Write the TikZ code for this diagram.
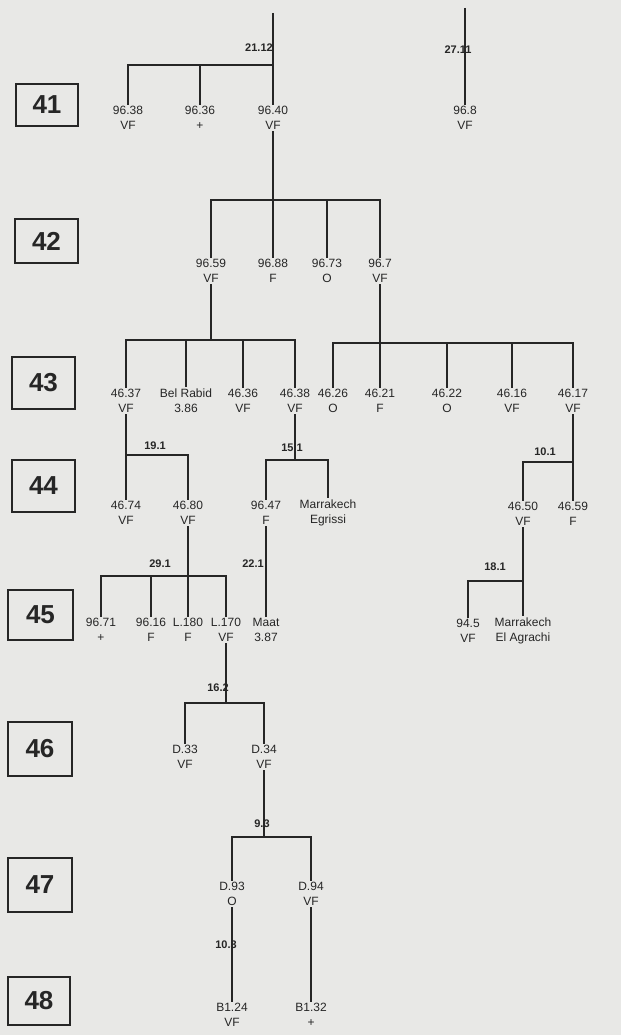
\documentclass[tikz,border=0pt]{standalone}
\usepackage{fontspec}
\setmainfont{Liberation Sans}
\definecolor{bg}{HTML}{E8E8E6}
\definecolor{ink}{HTML}{262626}
\begin{document}
\begin{tikzpicture}[x=1pt,y=-1pt,
  ln/.style={draw=ink,line width=1.3pt},
  lbl/.style={text=ink,align=center,inner sep=1.5pt,font=\fontsize{12}{15}\selectfont},
  dt/.style={text=ink,inner sep=0pt,font=\bfseries\fontsize{11}{13}\selectfont},
  yr/.style={draw=ink,line width=1.8pt,text=ink,inner sep=0pt,font=\bfseries\fontsize{26}{28}\selectfont}]
\path[fill=bg] (0,0) rectangle (621,1035);
\useasboundingbox (0,0) rectangle (621,1035);
% year boxes
\node[yr,minimum width=62pt,minimum height=42pt] (y41) at (47,105) {41};
\node[yr,minimum width=63pt,minimum height=44pt] (y42) at (46.5,241) {42};
\node[yr,minimum width=63pt,minimum height=52pt] (y43) at (43.5,383) {43};
\node[yr,minimum width=63pt,minimum height=52pt] (y44) at (43.5,486) {44};
\node[yr,minimum width=65pt,minimum height=50pt] (y45) at (40.5,615) {45};
\node[yr,minimum width=64pt,minimum height=54pt] (y46) at (40,749) {46};
\node[yr,minimum width=64pt,minimum height=54pt] (y47) at (40,885) {47};
\node[yr,minimum width=62pt,minimum height=48pt] (y48) at (39,1001) {48};
% nodes
\node[lbl] (a1) at (128,118) {96.38\\VF};
\node[lbl] (a2) at (200,118) {96.36\\+};
\node[lbl] (a3) at (273,118) {96.40\\VF};
\node[lbl] (a4) at (465,118) {96.8\\VF};
\node[lbl] (b1) at (211,271) {96.59\\VF};
\node[lbl] (b2) at (273,271) {96.88\\F};
\node[lbl] (b3) at (327,271) {96.73\\O};
\node[lbl] (b4) at (380,271) {96.7\\VF};
\node[lbl] (c1) at (126,401) {46.37\\VF};
\node[lbl] (c2) at (186,401) {Bel Rabid\\3.86};
\node[lbl] (c3) at (243,401) {46.36\\VF};
\node[lbl] (c4) at (295,401) {46.38\\VF};
\node[lbl] (c5) at (333,401) {46.26\\O};
\node[lbl] (c6) at (380,401) {46.21\\F};
\node[lbl] (c7) at (447,401) {46.22\\O};
\node[lbl] (c8) at (512,401) {46.16\\VF};
\node[lbl] (c9) at (573,401) {46.17\\VF};
\node[lbl] (d1) at (126,513) {46.74\\VF};
\node[lbl] (d2) at (188,513) {46.80\\VF};
\node[lbl] (d3) at (266,513) {96.47\\F};
\node[lbl] (d4) at (328,513) {Marrakech\\Egrissi};
\node[lbl] (d5) at (523,514) {46.50\\VF};
\node[lbl] (d6) at (573,514) {46.59\\F};
\node[lbl] (e1) at (101,630) {96.71\\+};
\node[lbl] (e2) at (151,630) {96.16\\F};
\node[lbl] (e3) at (188,630) {L.180\\F};
\node[lbl] (e4) at (226,630) {L.170\\VF};
\node[lbl] (e5) at (266,630) {Maat\\3.87};
\node[lbl] (e6) at (468,631) {94.5\\VF};
\node[lbl] (e7) at (523,631) {Marrakech\\El Agrachi};
\node[lbl] (f1) at (185,757) {D.33\\VF};
\node[lbl] (f2) at (264,757) {D.34\\VF};
\node[lbl] (g1) at (232,894) {D.93\\O};
\node[lbl] (g2) at (311,894) {D.94\\VF};
\node[lbl] (h1) at (232,1015) {B1.24\\VF};
\node[lbl] (h2) at (311,1015) {B1.32\\+};
% junction coordinates
\coordinate (t1) at (273,13);
\coordinate (t2) at (465,8);
\coordinate (j41) at (273,65);
\coordinate (j42) at (273,200);
\coordinate (j43l) at (211,340);
\coordinate (j43r) at (380,343);
\coordinate (j44a) at (126,455);
\coordinate (j44b) at (295,460);
\coordinate (j44c) at (573,462);
\coordinate (j45a) at (188,576);
\coordinate (j45b) at (523,581);
\coordinate (j46) at (226,703);
\coordinate (j47) at (264,837);
% connectors
\draw[ln] (t1) -- (a3.north);
\draw[ln] (j41) -| (a1.north);
\draw[ln] (a2.north |- j41) -- (a2.north);
\draw[ln] (t2) -- (a4.north);
\draw[ln] (a3.south) -- (b2.north);
\draw[ln] (b1.north) |- (b4.north |- j42) -- (b4.north);
\draw[ln] (b3.north |- j42) -- (b3.north);
\draw[ln] (b1.south) -- (j43l);
\draw[ln] (c1.north) |- (c4.north |- j43l) -- (c4.north);
\draw[ln] (c2.north |- j43l) -- (c2.north);
\draw[ln] (c3.north |- j43l) -- (c3.north);
\draw[ln] (b4.south) -- (c6.north);
\draw[ln] (c5.north) |- (c9.north |- j43r) -- (c9.north);
\draw[ln] (c7.north |- j43r) -- (c7.north);
\draw[ln] (c8.north |- j43r) -- (c8.north);
\draw[ln] (c1.south) -- (d1.north);
\draw[ln] (j44a) -| (d2.north);
\draw[ln] (c4.south) -- (j44b);
\draw[ln] (d3.north) |- (d4.north |- j44b) -- (d4.north);
\draw[ln] (c9.south) -- (d6.north);
\draw[ln] (d5.north) |- (j44c);
\draw[ln] (d5.south) -- (e7.north);
\draw[ln] (e6.north) |- (j45b);
\draw[ln] (d2.south) -- (e3.north);
\draw[ln] (e1.north) |- (e4.north |- j45a) -- (e4.north);
\draw[ln] (e2.north |- j45a) -- (e2.north);
\draw[ln] (d3.south) -- (e5.north);
\draw[ln] (e4.south) -- (j46);
\draw[ln] (f1.north) |- (f2.north |- j46) -- (f2.north);
\draw[ln] (f2.south) -- (j47);
\draw[ln] (g1.north) |- (g2.north |- j47) -- (g2.north);
\draw[ln] (g1.south) -- (h1.north);
\draw[ln] (g2.south) -- (h2.north);
% date labels
\node[dt] (l1) at (259,48) {21.12};
\node[dt] (l2) at (458,50) {27.11};
\node[dt] (l3) at (155,446) {19.1};
\node[dt] (l4) at (292,448) {15.1};
\node[dt] (l5) at (545,452) {10.1};
\node[dt] (l6) at (495,567) {18.1};
\node[dt] (l7) at (160,564) {29.1};
\node[dt] (l8) at (253,564) {22.1};
\node[dt] (l9) at (218,688) {16.2};
\node[dt] (l10) at (262,824) {9.3};
\node[dt] (l11) at (226,945) {10.3};
\end{tikzpicture}
\end{document}
